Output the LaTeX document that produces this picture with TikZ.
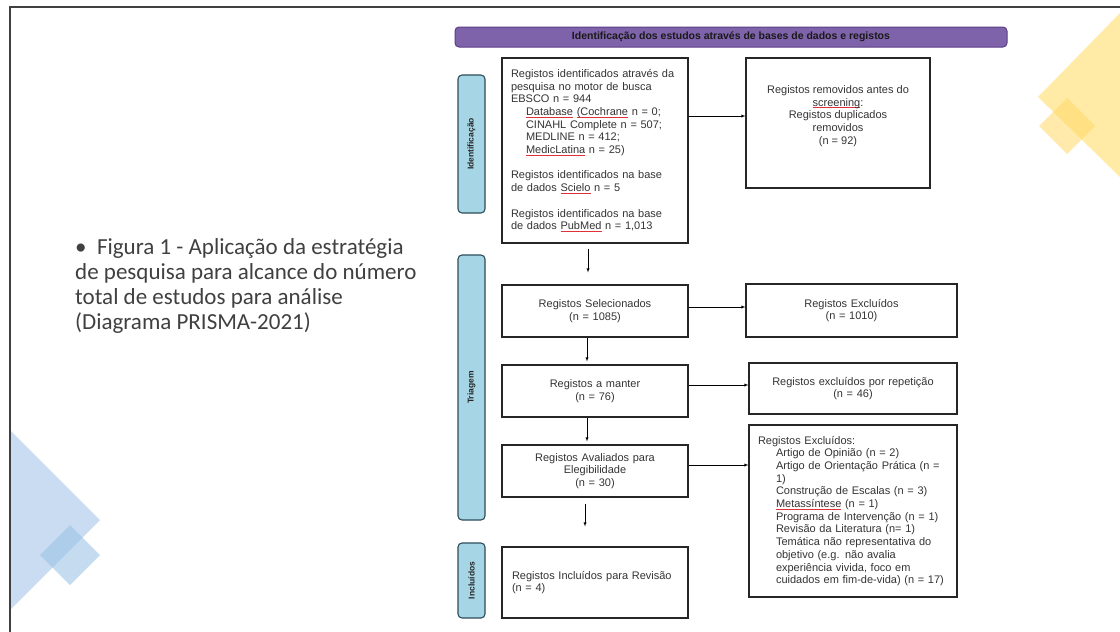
\documentclass[tikz,border=0pt]{standalone}
\usepackage{fontspec}
\setmainfont{Liberation Sans}
\newfontfamily\captionfont{Carlito}
\usepackage{xcolor}

\definecolor{bannerpurple}{HTML}{7E62AA}
\definecolor{bannerline}{HTML}{5A3F86}
\definecolor{phaseblue}{HTML}{A6D6E6}
\definecolor{phaseline}{HTML}{2E4C5A}
\definecolor{captiongray}{HTML}{404040}
\definecolor{decoblue}{HTML}{C9DCF2}
\definecolor{decoblue2}{HTML}{9DC3E6}
\definecolor{decoyellow}{HTML}{FFEAA6}
\definecolor{decoyellow2}{HTML}{FFD966}
\definecolor{spellred}{HTML}{E0303A}

\newcommand{\spellmark}[1]{\setbox0\hbox{#1}\rlap{\textcolor{spellred}{\rule[-2pt]{\wd0}{0.8pt}}}\box0\relax}

\begin{document}
\begin{tikzpicture}
    [x=1pt,y=-1pt,>=latex,
     box/.style={draw=black!85,line width=1.1pt,inner ysep=0pt,text=black!80,
                 font=\fontsize{11}{12.7}\selectfont},
     phase/.style={draw=phaseline,fill=phaseblue,line width=1.1pt,rounded corners=4pt,
                   rotate=90,minimum height=27pt,inner sep=0pt,text=black!85,
                   font=\bfseries\fontsize{8.5}{9}\selectfont},
     banner/.style={draw=bannerline,fill=bannerpurple,line width=1pt,rounded corners=4pt,
                    minimum width=552pt,minimum height=20pt,inner sep=0pt,text=black!90,
                    font=\bfseries\fontsize{10.5}{11}\selectfont}]
\useasboundingbox (0,0) rectangle (1120,632);
% slide decorations
\fill [decoblue] (10,430) -- (100,520) -- (10,610) -- cycle;
\fill [decoblue2,opacity=.6] (40,555) -- (70,525) -- (100,555) -- (70,585) -- cycle;
\fill [decoyellow] (1120,13) -- (1038,97) -- (1120,177) -- cycle;
\fill [decoyellow2,opacity=.55] (1039,126) -- (1067,98) -- (1095,126) -- (1067,154) -- cycle;
\draw [black!75,line width=1.5pt] (10,632) -- (10,7) -- (1120,7);
% caption
\node [anchor=north west,align=left,text=captiongray,inner sep=0pt,
       font=\captionfont\fontsize{23}{25}\selectfont] (caption) at (75,238)
    {\textbullet\ \ Figura 1 - Aplicação da estratégia\\
     de pesquisa para alcance do número\\
     total de estudos para análise\\
     (Diagrama PRISMA-2021)};
% flow diagram
\path
    (731,37) node [banner] (banner) {Identificação dos estudos através de bases de dados e registos}
    (471.5,144) node [phase,minimum width=138pt] (ident) {Identificação}
    (471.5,387.5) node [phase,minimum width=265pt] (triage) {Triagem}
    (471.5,580.5) node [phase,minimum width=75pt] (incl) {Incluídos}
    (595,150.5) node [box,text width=168pt,inner xsep=9pt,minimum height=185pt,align=left] (found)
        {Registos identificados através da\\
         pesquisa no motor de busca\\
         EBSCO n = 944\\
         \hspace*{15pt}\spellmark{Database} \spellmark{(Cochrane} n = 0;\\
         \hspace*{15pt}CINAHL Complete n = 507;\\
         \hspace*{15pt}MEDLINE n = 412;\\
         \hspace*{15pt}\spellmark{MedicLatina} n = 25)\\[12.7pt]
         Registos identificados na base\\
         de dados \spellmark{Scielo} n = 5\\[12.7pt]
         Registos identificados na base\\
         de dados \spellmark{PubMed} n = 1,013}
    (595,311) node [box,text width=166pt,inner xsep=10pt,minimum height=52pt,align=center] (selected)
        {Registos Selecionados\\(n = 1085)}
    (595,391) node [box,text width=166pt,inner xsep=10pt,minimum height=52pt,align=center] (kept)
        {Registos a manter\\(n = 76)}
    (595,471) node [box,text width=166pt,inner xsep=10pt,minimum height=52pt,align=center] (assessed)
        {Registos Avaliados para\\Elegibilidade\\(n = 30)}
    (595,582.5) node [box,text width=166pt,inner xsep=10pt,minimum height=71pt,align=left] (included)
        {Registos Incluídos para Revisão\\(n = 4)}
    (838,123) node [box,minimum width=184pt,minimum height=130pt] (removed) {}
    (838,116) node [text=black!80,align=center,font=\fontsize{11}{12.6}\selectfont] (removedtext)
        {Registos removidos antes do\\
         \spellmark{screening}:\\
         Registos duplicados\\
         removidos\\
         (n = 92)}
    (851.5,310.5) node [box,text width=195pt,inner xsep=8pt,minimum height=53pt,align=center] (excluded)
        {Registos Excluídos\\(n = 1010)}
    (853,388.5) node [box,text width=192pt,inner xsep=8pt,minimum height=51pt,align=center] (repeated)
        {Registos excluídos por repetição\\(n = 46)}
    (853,511) node [box,text width=190pt,inner xsep=9pt,minimum height=172pt,align=left] (reasons)
        {Registos Excluídos:\\
         \hspace*{18pt}Artigo de Opinião (n = 2)\\
         \hspace*{18pt}Artigo de Orientação Prática (n =\\
         \hspace*{18pt}1)\\
         \hspace*{18pt}Construção de Escalas (n = 3)\\
         \hspace*{18pt}\spellmark{Metassíntese} (n = 1)\\
         \hspace*{18pt}Programa de Intervenção (n = 1)\\
         \hspace*{18pt}Revisão da Literatura (n= 1)\\
         \hspace*{18pt}Temática não representativa do\\
         \hspace*{18pt}objetivo (e.g. não avalia\\
         \hspace*{18pt}experiência vivida, foco em\\
         \hspace*{18pt}cuidados em fim-de-vida) (n = 17)};
\draw [->] (found.east |- removedtext) -- (removed.west |- removedtext);
\draw [->] ([yshift=4pt]selected.east) -- ([yshift=4pt]selected.east -| excluded.west);
\draw [->] ([yshift=6pt]kept.east) -- ([yshift=6pt]kept.east -| repeated.west);
\draw [->] ([yshift=6pt]assessed.east) -- ([yshift=6pt]assessed.east -| reasons.west);
\draw [->,shorten <=5pt,shorten >=12pt] ([xshift=-7pt]found.south) -- ([xshift=-7pt]selected.north);
\draw [->,shorten >=3pt] ([xshift=-8pt]selected.south) -- ([xshift=-8pt]kept.north);
\draw [->,shorten >=3pt] ([xshift=-8pt]kept.south) -- ([xshift=-8pt]assessed.north);
\draw [->,shorten <=6pt,shorten >=20pt] ([xshift=-10pt]assessed.south) -- ([xshift=-10pt]included.north);
\end{tikzpicture}
\end{document}
